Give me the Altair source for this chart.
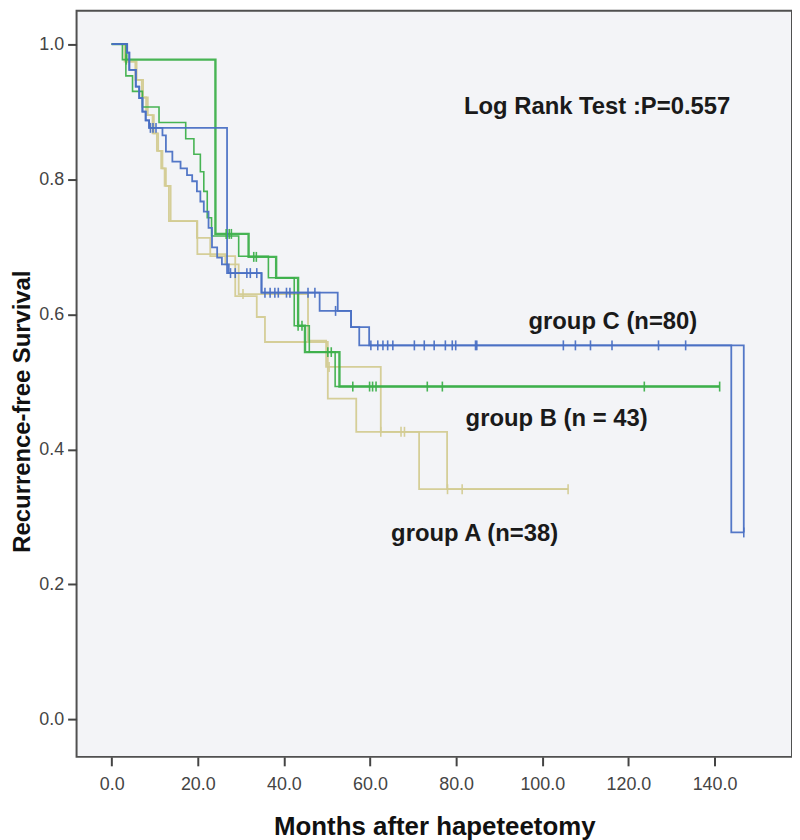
import altair as alt
import pandas as pd

# ---------------- data ----------------
groups = ["A", "B", "C"]
group_colors = ["#D3CB92", "#3DB04B", "#4A70C4"]

# group A (n=38) - two yellow step curves
A1_t = [0, 3.0, 5.5, 7.0, 8.0, 9.5, 10.5, 11.5, 12.3, 13.3, 19.8, 22.9, 28.7, 33.7, 35.6, 50.2, 56.8, 71.4, 106.0]
A1_s = [1.0, .974, .947, .921, .895, .868, .842, .816, .790, .738, .713, .686, .627, .596, .559, .475, .426, .341, .341]
A2_t = [0, 3.4, 5.8, 7.3, 8.4, 9.8, 10.8, 11.8, 12.6, 13.7, 19.9, 26.4, 29.5, 45.6, 49.8, 62.5, 77.9, 106.0]
A2_s = [1.0, .974, .947, .921, .895, .868, .842, .816, .790, .738, .689, .674, .630, .561, .522, .426, .341, .341]

# group B (n=43) - two green step curves
B1_t = [0, 3.4, 24.1, 31.8, 38.2, 43.3, 44.9, 52.9, 141.2]
B1_s = [1.0, .977, .719, .685, .654, .583, .544, .493, .493]
B2_t = [0, 2.5, 3.3, 4.85, 7.15, 11.0, 17.2, 19.1, 20.6, 21.4, 22.2, 23.2, 29.5, 36.4, 42.4, 45.9, 51.9, 141.2]
B2_s = [1.0, .977, .953, .930, .907, .884, .860, .837, .811, .782, .743, .716, .686, .654, .583, .544, .493, .493]

# group C (n=80) - two blue step curves
C1_t = [0, 3.6, 4.1, 5.6, 6.4, 7.15, 7.9, 8.7, 26.8, 34.8, 52.5, 55.6, 59.8, 146.8]
C1_s = [1.0, .9875, .962, .937, .920, .900, .887, .876, .661, .632, .605, .581, .554, .277]
C2_t = [0, 3.6, 4.1, 5.6, 6.4, 7.15, 7.9, 8.7, 11.8, 12.6, 14.1, 16.0, 17.5, 18.7, 19.8, 20.6, 21.4,
        22.5, 23.3, 24.5, 25.6, 27.2, 34.8, 48.3, 55.6, 57.5, 143.9, 146.8]
C2_s = [1.0, .9875, .962, .937, .920, .900, .887, .876, .865, .841, .826, .816, .806, .797, .782, .767, .752,
        .728, .699, .684, .674, .661, .632, .605, .581, .554, .277, .277]

# censored observations (time, survival)
A_cens_t = [30.5, 50.5, 62.5, 67.2, 68.0, 78.0, 81.4, 106.0]
A_cens_s = [.630, .522, .426, .426, .426, .341, .341, .341]
B_cens_t = [3.4, 26.6, 27.3, 27.8, 33.0, 33.6, 43.3, 44.2, 50.2, 51.0, 56.0, 59.9, 60.6, 61.4, 73.3, 76.8, 123.7, 141.2]
B_cens_s = [.977, .719, .719, .719, .685, .685, .583, .583, .544, .544, .493, .493, .493, .493, .493, .493, .493, .493]
C_cens_t = [9.0, 9.6, 10.3, 27.6, 28.7, 31.4, 32.2, 33.7, 35.6, 36.8, 37.9, 38.7, 40.6, 41.4, 45.6, 47.2, 52.0,
            60.2, 61.8, 63.0, 64.1, 65.3, 70.3, 72.6, 74.9, 77.5, 79.1, 79.9, 84.5, 84.8, 104.9, 107.7, 111.2,
            116.2, 127.0, 133.3, 146.8]
C_cens_s = [.876, .876, .876, .661, .661, .661, .661, .661, .632, .632, .632, .632, .632, .632, .632, .632, .605,
            .554, .554, .554, .554, .554, .554, .554, .554, .554, .554, .554, .554, .554, .554, .554, .554,
            .554, .554, .554, .277]

labels_text = ["Log Rank Test :P=0.557", "group C (n=80)", "group B (n = 43)", "group A (n=38)"]
labels_t = [81.8, 96.8, 82.2, 64.9]
labels_s = [0.907, 0.589, 0.445, 0.275]

x_ticks = [0, 20, 40, 60, 80, 100, 120, 140]
y_ticks = [0.0, 0.2, 0.4, 0.6, 0.8, 1.0]

# ---------------- tables ----------------
curves = [("A", "A1", A1_t, A1_s, 1.8), ("A", "A2", A2_t, A2_s, 1.8),
          ("B", "B1", B1_t, B1_s, 2.4), ("B", "B2", B2_t, B2_s, 1.6),
          ("C", "C1", C1_t, C1_s, 1.8), ("C", "C2", C2_t, C2_s, 1.8)]
rows = []
for g, name, ts, ss, w in curves:
    for t, s in zip(ts, ss):
        rows.append({"t": t, "s": s, "group": g, "curve": name, "w": w})
lines_df = pd.DataFrame(rows)

cens_rows = []
for g, ts, ss in [("A", A_cens_t, A_cens_s), ("B", B_cens_t, B_cens_s), ("C", C_cens_t, C_cens_s)]:
    for t, s in zip(ts, ss):
        cens_rows.append({"t": t, "s": s, "group": g})
cens_df = pd.DataFrame(cens_rows)

text_df = pd.DataFrame({"t": labels_t, "s": labels_s, "label": labels_text})

# ---------------- encodings ----------------
xscale = alt.Scale(domain=[-8.15, 158.0], nice=False, zero=False)
yscale = alt.Scale(domain=[-0.0553, 1.0496], nice=False, zero=False)
x_enc = alt.X("t:Q", scale=xscale,
              axis=alt.Axis(values=x_ticks, format=".1f", title="Months after hapeteetomy",
                            titleFont="Liberation Sans Narrow, Arial Narrow, Liberation Sans",
                            titleFontSize=26, titlePadding=20, labelPadding=10))
y_enc = alt.Y("s:Q", scale=yscale,
              axis=alt.Axis(values=y_ticks, format=".1f", title="Recurrence-free Survival",
                            titleFont="Liberation Sans", titleFontSize=24, titlePadding=4,
                            labelPadding=4, titleY=403))
color_enc = alt.Color("group:N", scale=alt.Scale(domain=groups, range=group_colors), legend=None)

lines = alt.Chart(lines_df).mark_line(interpolate="step-after", opacity=0.95).encode(
    x=x_enc, y=y_enc, color=color_enc, detail="curve:N",
    strokeWidth=alt.StrokeWidth("w:Q", scale=None),
    order=alt.Order("curve:N"))

cens = alt.Chart(cens_df).mark_tick(orient="vertical", size=10, thickness=1.6, opacity=0.95).encode(
    x=x_enc, y=y_enc, color=color_enc)

texts = alt.Chart(text_df).mark_text(align="left", baseline="middle", font="Liberation Sans",
                                     fontWeight="bold", fontSize=24, color="#1a1a1a").encode(
    x=x_enc, y=y_enc, text="label:N")

chart = alt.layer(lines, cens, texts).properties(
    width=720, height=751,
    autosize=alt.AutoSizeParams(type="none"),
    padding={"left": 69, "top": 0, "right": 0, "bottom": 81},
    background="white",
).configure_view(
    fill="#F3F4F7", stroke="#505050", strokeWidth=2
).configure_axis(
    grid=False, domain=False, tickColor="#444444", tickWidth=2, tickSize=9,
    labelFont="Liberation Sans Narrow, Arial Narrow, Liberation Sans", labelFontSize=18,
    labelColor="#444444", titleFontWeight="bold", titleColor="#111111"
)

chart.save("out.html", embed_options={"renderer": "svg", "actions": False})
